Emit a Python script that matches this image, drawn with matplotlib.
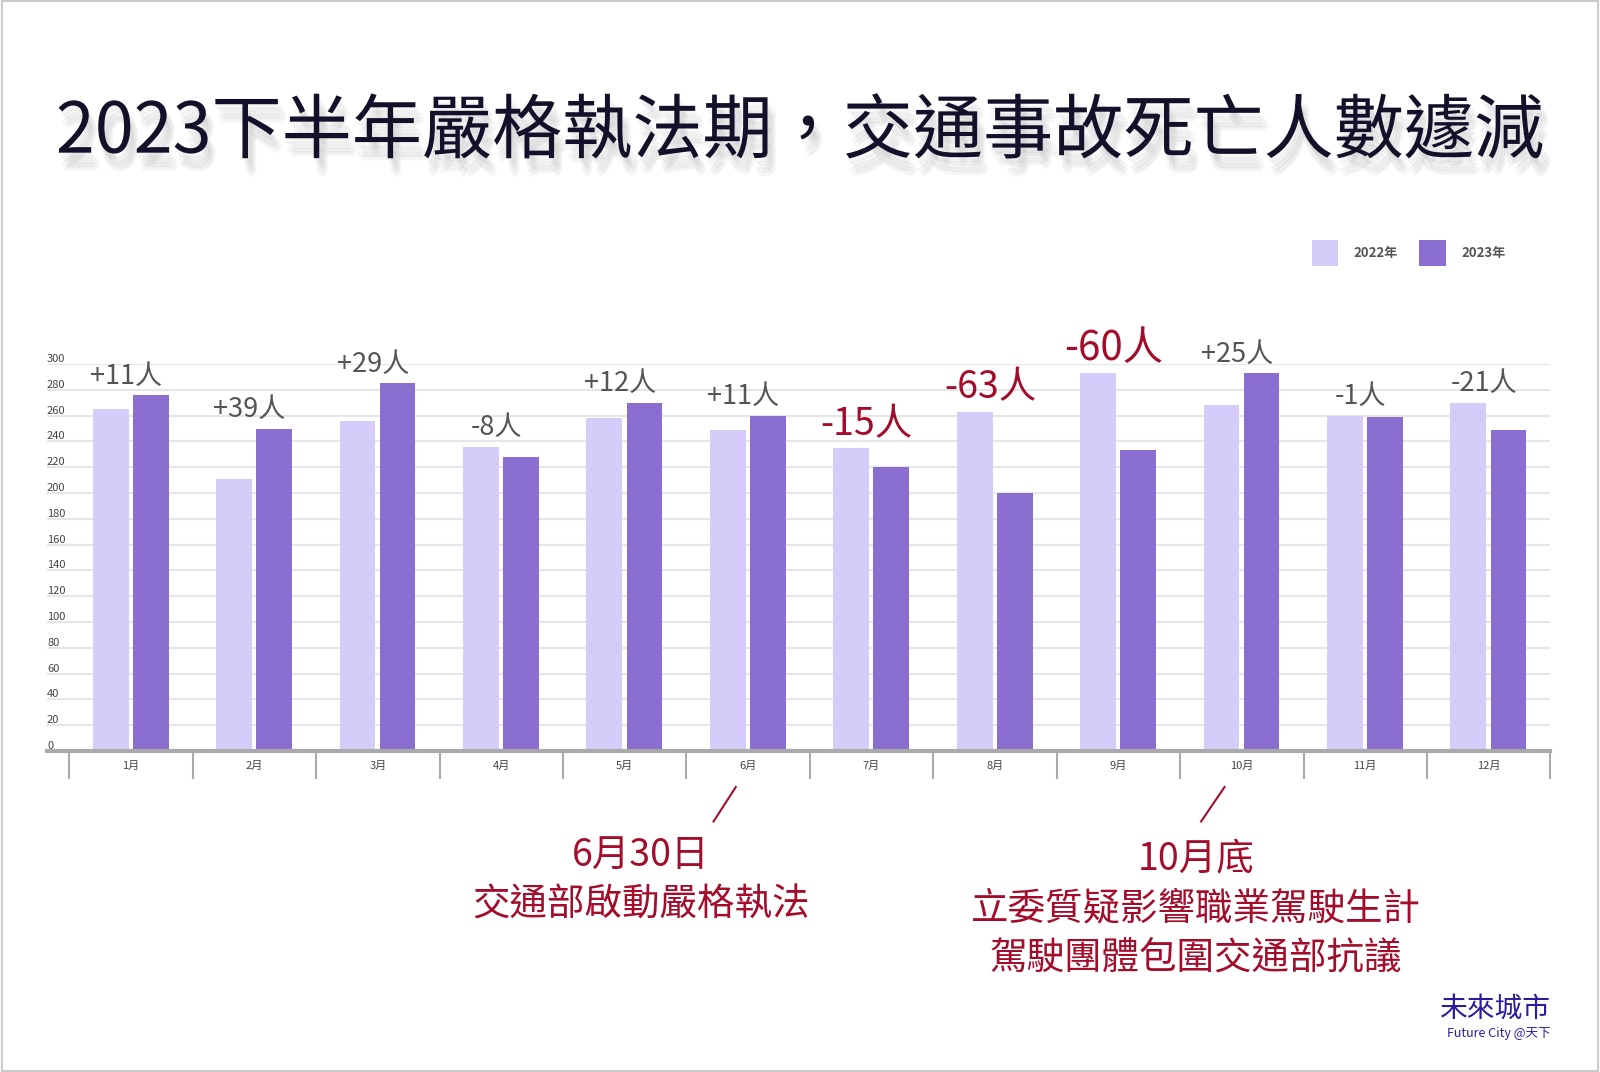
import matplotlib
matplotlib.use("Agg")
import matplotlib.pyplot as plt
import matplotlib.patheffects as pe
from matplotlib.transforms import blended_transform_factory
import numpy as np

plt.rcParams['font.family'] = ['Noto Sans CJK TC', 'DejaVu Sans']

months = ['1月', '2月', '3月', '4月', '5月', '6月', '7月', '8月', '9月', '10月', '11月', '12月']
deaths_2022 = [265, 211, 256, 236, 258, 249, 235, 263, 293, 268, 260, 270]
deaths_2023 = [276, 250, 285, 228, 270, 260, 220, 200, 233, 293, 259, 249]
diff_labels = ['+11人', '+39人', '+29人', '-8人', '+12人', '+11人',
               '-15人', '-63人', '-60人', '+25人', '-1人', '-21人']
highlight = [False] * 6 + [True, True, True] + [False] * 3
yticks = list(range(0, 301, 20))

c22 = '#d5ccfa'
c23 = '#8a6fd0'
red = '#a30d2b'
gray_txt = '#555555'

fig = plt.figure(figsize=(16, 10.72), dpi=100)
fig.patch.set_facecolor('white')
ax = fig.add_axes([0.0294, 0.2994, 0.9396, 0.361])

x = np.arange(len(months)) + 0.5
w = 0.29
ax.bar(x - 0.165, deaths_2022, width=w, color=c22, label='2022年', zorder=2)
ax.bar(x + 0.16, deaths_2023, width=w, color=c23, label='2023年', zorder=2)

ax.set_xlim(-0.18, 12)
ax.set_ylim(0, 300)

# grid + y labels sitting on the lines
ax.set_yticks(yticks)
ax.set_yticklabels([str(v) for v in yticks])
ax.grid(axis='y', color='#e6e6e6', linewidth=1.5, zorder=0)
ax.tick_params(axis='y', length=0, pad=0, labelsize=8, labelcolor='#444444')
for lab in ax.get_yticklabels():
    lab.set_ha('left')
    lab.set_va('bottom')

# category separators and labels
ax.set_xticks(np.arange(0, 13))
ax.set_xticklabels([''] * 13)
ax.tick_params(axis='x', which='major', length=20, width=1.5, color='#aaaaaa', direction='out')
ax.set_xticks(x, minor=True)
ax.set_xticklabels(months, minor=True)
ax.tick_params(axis='x', which='minor', length=0, pad=7, labelsize=8, labelcolor='#444444')

for s in ['top', 'right', 'left']:
    ax.spines[s].set_visible(False)
ax.spines['bottom'].set_color('#aaaaaa')
ax.spines['bottom'].set_linewidth(3)
ax.spines['bottom'].set_bounds(-0.18, 12)

# change labels above each pair
for i in range(len(months)):
    top = max(deaths_2022[i], deaths_2023[i])
    if highlight[i]:
        ax.annotate(diff_labels[i], (x[i] - 0.04, top), xytext=(0, 3), textcoords='offset points',
                    ha='center', va='bottom', fontsize=29 if i == 8 else 27, color=red)
    else:
        ax.annotate(diff_labels[i], (x[i] - 0.04, top), xytext=(0, 4), textcoords='offset points',
                    ha='center', va='bottom', fontsize=19.5, color=gray_txt)

# notes under the axis
tr = blended_transform_factory(ax.transData, ax.transAxes)
ax.plot([5.22, 5.40], [-0.182, -0.093], transform=tr, color=red, lw=1.5, clip_on=False)
ax.plot([9.17, 9.36], [-0.182, -0.093], transform=tr, color=red, lw=1.5, clip_on=False)
ax.text(4.63, -0.335, '6月30日\n交通部啟動嚴格執法', transform=tr, ha='center', va='center',
        fontsize=27, color=red, linespacing=1.32)
ax.text(9.13, -0.408, '10月底\n立委質疑影響職業駕駛生計\n駕駛團體包圍交通部抗議', transform=tr,
        ha='center', va='center', fontsize=27, color=red, linespacing=1.32)

ax.legend(loc='center', bbox_to_anchor=(0.8805, 0.764), bbox_transform=fig.transFigure,
          ncol=2, frameon=False, handlelength=2.0, handleheight=2.6, columnspacing=1.6,
          handletextpad=1.2, prop={'size': 9.5, 'weight': 'bold'}, labelcolor='#555555')

# soft layered shadow for the title
shadow = [pe.SimplePatchShadow(offset=(dx, dy), shadow_rgbFace='#888888', alpha=0.07)
          for dx, dy in [(1, -4), (3, -6), (5, -8), (2, -10), (6, -11), (4, -13)]]
fig.text(0.5, 0.876, '2023下半年嚴格執法期，交通事故死亡人數遽減', ha='center', va='center',
         fontsize=50.5, color='#14102a', path_effects=shadow + [pe.Normal()])

fig.text(0.969, 0.059, '未來城市', ha='right', va='center', fontsize=20, color='#2d1a9e', weight='medium')
fig.text(0.969, 0.036, 'Future City @天下', ha='right', va='center', fontsize=9, color='#2d1a9e')

fig.add_artist(plt.Rectangle((0.001, 0.001), 0.998, 0.998, transform=fig.transFigure,
                             fill=False, edgecolor='#cccccc', linewidth=1.5))

fig.savefig('out.png', dpi=100)
